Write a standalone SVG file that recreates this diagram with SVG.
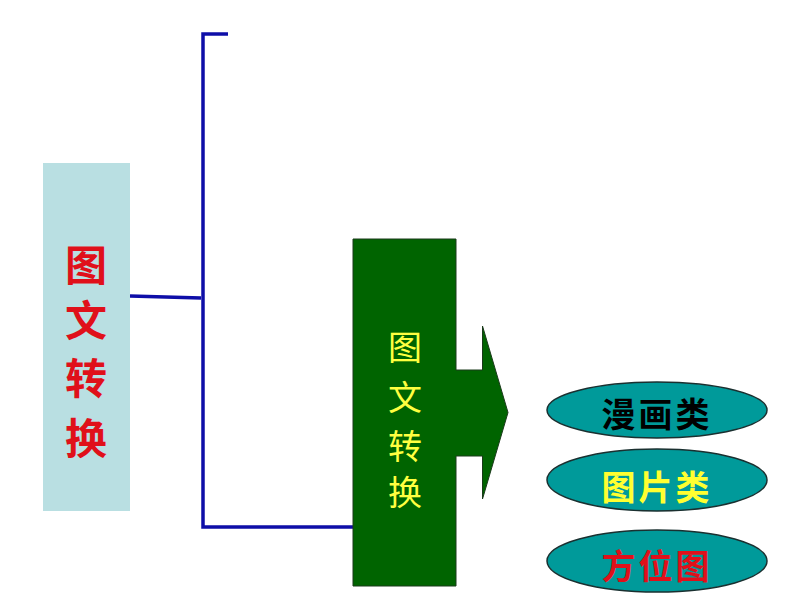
<svg xmlns="http://www.w3.org/2000/svg" width="794" height="596" viewBox="0 0 794 596">
<style>
.cjk{font-family:"Noto Sans CJK SC","Noto Sans",sans-serif;text-anchor:middle;dominant-baseline:central}
.line{stroke:#0e0ea8;stroke-width:3.5;fill:none}
.oval{fill:#009a9a;stroke:#1a3030;stroke-width:1.5}
</style>
<rect width="794" height="596" fill="#ffffff"/>
<g id="connectors">
<path class="line" d="M228,34 H203 V527 H353"/>
<path class="line" d="M130,296 L201,298"/>
</g>
<g id="main">
<rect x="43" y="163" width="87" height="348" fill="#b9dfe2"/>
<g class="cjk" font-size="42" font-weight="bold" fill="#e0101a">
<text x="86" y="262">图</text>
<text x="86" y="317">文</text>
<text x="86" y="375">转</text>
<text x="86" y="435">换</text>
</g>
</g>
<g id="arrow">
<path d="M353,239 H456 V370 H482.5 V326 L508,412.5 L482.5,499 V456 H456 V586 H353 Z" fill="#006400" stroke="#1a3a1a" stroke-width="1"/>
<g class="cjk" font-size="34" fill="#ffff40">
<text x="405" y="345">图</text>
<text x="405" y="395">文</text>
<text x="405" y="444">转</text>
<text x="405" y="490">换</text>
</g>
</g>
<g id="manhua">
<ellipse class="oval" cx="657" cy="410" rx="110" ry="28"/>
<text class="cjk" x="657" y="412" font-size="34" font-weight="bold" letter-spacing="3" fill="#000000">漫画类</text>
</g>
<g id="tupian">
<ellipse class="oval" cx="657" cy="480" rx="110" ry="31"/>
<text class="cjk" x="657" y="485" font-size="34" font-weight="bold" letter-spacing="3" fill="#ffff30">图片类</text>
</g>
<g id="fangwei">
<ellipse class="oval" cx="657" cy="561" rx="110" ry="31"/>
<text class="cjk" x="657" y="564" font-size="34" font-weight="bold" letter-spacing="3" fill="#e0101a">方位图</text>
</g>
</svg>
